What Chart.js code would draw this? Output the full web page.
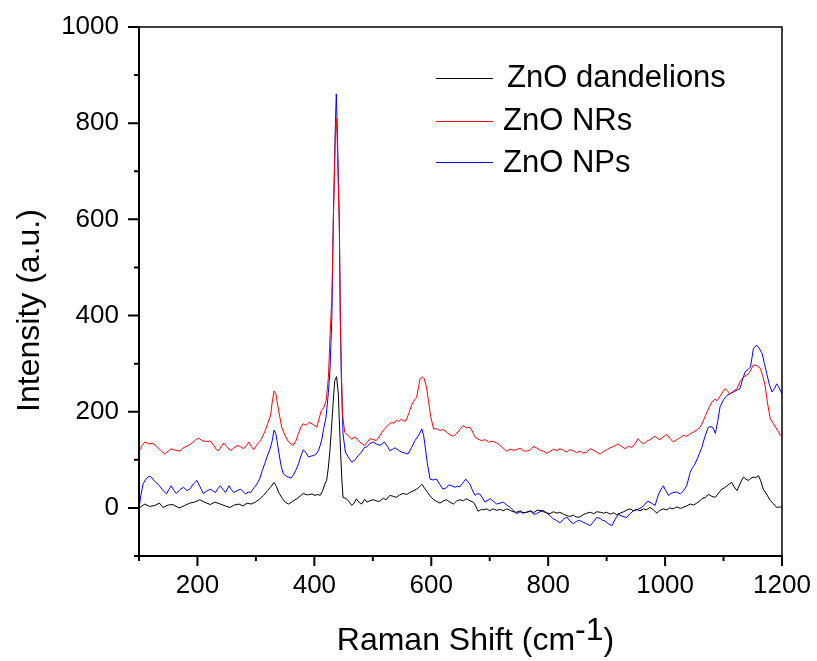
<!DOCTYPE html>
<html><head><meta charset="utf-8">
<script src="https://cdn.jsdelivr.net/npm/chart.js@4.4.1/dist/chart.umd.min.js"></script>
<style>html,body{margin:0;padding:0;background:#fff}#wrap{width:817px;height:661px}</style>
</head><body><div id="wrap"><canvas id="c" width="817" height="661"></canvas></div>
<script>
const seriesLabels = ['ZnO dandelions', 'ZnO NRs', 'ZnO NPs'];
const seriesColors = ['#000000', '#ff0000', '#0000ff'];

const dandelions = [[100,0],[110,8],[118,3],[127,5],[135,10],[141,1],[150,6],[158,7],[165,2],[170,0],[178,5],[187,10],[195,12],[204,17],[212,12],[222,7],[230,12],[239,8],[248,4],[256,1],[263,6],[271,8],[278,4],[285,10],[292,8],[299,12],[306,18],[313,26],[320,36],[325,43],[331,53],[335,45],[339,32],[345,20],[350,12],[356,8],[363,14],[370,19],[376,25],[381,30],[388,27],[396,29],[401,26],[406,28],[410,26],[414,35],[418,50],[421,57],[424,85],[427,125],[430,178],[433,235],[435,265],[438,273],[441,237],[443,170],[445,113],[447,60],[449,22],[455,19],[460,12],[464,5],[468,10],[472,19],[476,12],[481,8],[486,18],[490,12],[495,15],[501,17],[507,14],[512,14],[518,20],[523,17],[529,26],[535,24],[540,22],[546,27],[552,30],[558,28],[563,32],[569,35],[575,39],[580,44],[584,49],[588,42],[592,35],[598,25],[604,17],[610,13],[615,10],[620,14],[626,17],[632,12],[638,8],[643,14],[649,17],[655,15],[660,19],[666,15],[672,12],[676,4],[680,-7],[686,-3],[690,-4],[695,-2],[700,-6],[706,-2],[712,-5],[718,-3],[723,-6],[729,-2],[735,-5],[740,-8],[746,-9],[752,-6],[757,-10],[763,-9],[770,-6],[775,-10],[781,-5],[786,-5],[792,-8],[797,-10],[803,-12],[809,-8],[815,-11],[820,-9],[826,-13],[832,-16],[837,-18],[843,-15],[848,-19],[854,-19],[860,-14],[866,-11],[872,-9],[878,-12],[883,-8],[889,-9],[895,-11],[900,-9],[906,-13],[912,-10],[917,-14],[923,-11],[929,-8],[934,-5],[940,-2],[946,-6],[951,-3],[957,-6],[963,-2],[968,-4],[974,1],[980,-4],[986,-11],[991,-5],[997,-2],[1003,-4],[1008,0],[1014,-2],[1020,2],[1026,-1],[1031,1],[1037,4],[1043,8],[1049,6],[1054,10],[1060,15],[1063,19],[1069,22],[1074,28],[1080,24],[1086,22],[1091,30],[1097,39],[1102,42],[1106,46],[1110,50],[1114,53],[1118,44],[1123,36],[1128,50],[1134,64],[1138,60],[1143,57],[1147,62],[1151,64],[1155,63],[1160,67],[1164,55],[1168,39],[1174,28],[1180,15],[1186,8],[1191,1],[1196,2],[1200,1]];

const nanorods = [[100,118],[105,130],[110,137],[117,133],[124,134],[130,128],[137,120],[144,112],[150,118],[155,123],[162,120],[170,118],[175,124],[179,127],[185,130],[192,136],[197,142],[202,145],[208,140],[215,138],[222,139],[228,130],[232,122],[236,119],[241,128],[245,135],[250,128],[256,119],[262,124],[268,130],[274,127],[279,123],[284,130],[288,137],[292,128],[296,121],[302,132],[308,140],[312,150],[316,161],[320,175],[325,192],[328,220],[331,243],[334,238],[336,223],[340,195],[344,168],[350,150],[356,137],[360,133],[364,130],[368,138],[373,155],[377,168],[381,175],[386,172],[391,178],[396,175],[401,171],[404,168],[408,185],[412,203],[416,208],[420,223],[422,245],[424,272],[427,362],[430,440],[432.5,600],[436,780],[437.5,810],[439,770],[442.7,580],[444.5,380],[446,300],[448,196],[452,157],[458,150],[464,143],[470,148],[475,140],[480,135],[486,130],[490,136],[495,144],[501,142],[506,140],[512,150],[516,158],[520,164],[526,172],[532,178],[536,176],[540,182],[545,180],[549,185],[553,180],[557,182],[562,198],[566,213],[570,222],[575,230],[578,250],[581,269],[585,272],[588,269],[592,250],[595,224],[599,190],[604,164],[609,165],[615,161],[620,163],[626,158],[632,152],[638,149],[642,154],[646,158],[650,165],[655,171],[660,166],[666,168],[670,160],[675,147],[680,143],[686,140],[692,142],[698,137],[705,139],[712,135],[718,130],[723,124],[729,118],[735,122],[740,120],[746,121],[752,124],[757,119],[763,118],[770,121],[775,128],[780,125],[786,120],[792,118],[797,114],[803,117],[809,122],[815,119],[820,123],[826,120],[832,116],[837,121],[843,119],[848,115],[855,118],[860,114],[866,116],[872,123],[878,120],[883,116],[889,112],[895,118],[900,121],[906,125],[912,128],[920,133],[926,127],[932,123],[937,128],[943,126],[948,132],[954,144],[958,138],[963,133],[968,138],[974,142],[979,146],[983,149],[987,144],[991,142],[997,148],[1003,153],[1008,145],[1014,137],[1020,142],[1026,146],[1031,151],[1037,149],[1043,154],[1049,158],[1055,163],[1060,168],[1065,180],[1069,192],[1075,208],[1080,220],[1085,226],[1089,223],[1095,234],[1099,242],[1103,248],[1107,243],[1111,237],[1117,243],[1123,248],[1128,262],[1134,272],[1139,276],[1143,279],[1147,288],[1151,297],[1157,296],[1163,290],[1167,275],[1171,255],[1175,220],[1180,185],[1185,176],[1189,168],[1194,158],[1197,151],[1200,150]];

const nanoparticles = [[100,-2],[103,25],[107,50],[112,60],[117,66],[121,64],[127,55],[133,49],[140,38],[147,29],[151,38],[155,46],[160,36],[164,30],[170,38],[176,43],[182,36],[187,39],[193,50],[199,57],[204,45],[210,30],[216,35],[222,39],[226,36],[231,32],[235,40],[239,46],[244,38],[248,32],[254,46],[258,38],[262,32],[268,36],[274,39],[278,34],[282,29],[287,33],[291,32],[297,42],[302,50],[307,62],[311,78],[315,92],[319,106],[324,122],[328,140],[331,162],[334,155],[336,140],[340,110],[343,88],[347,71],[352,66],[356,64],[360,62],[364,68],[369,80],[373,92],[377,108],[381,121],[386,114],[390,106],[395,108],[399,109],[403,112],[407,119],[410,130],[413,144],[416,165],[420,189],[424,240],[427,293],[430,400],[432.4,600],[436,800],[437.5,861],[439,800],[442.7,600],[444.4,400],[446,279],[449,154],[453,116],[458,106],[464,95],[470,100],[475,109],[480,115],[486,126],[489,126],[495,134],[501,137],[506,133],[512,130],[516,133],[520,137],[525,128],[529,119],[534,122],[538,125],[544,120],[549,116],[555,114],[560,112],[566,125],[572,140],[578,150],[584,164],[587,150],[589,133],[593,95],[598,60],[603,58],[609,60],[614,50],[620,39],[626,42],[630,48],[635,46],[641,43],[645,45],[649,44],[654,52],[659,60],[662,55],[666,50],[670,38],[675,26],[679,30],[683,29],[688,20],[692,12],[697,16],[701,19],[706,14],[712,8],[718,10],[723,12],[729,6],[735,1],[740,-5],[746,-12],[752,-8],[757,-11],[763,-9],[770,-7],[775,-13],[780,-12],[786,-8],[791,-5],[797,-10],[803,-16],[808,-22],[814,-26],[820,-31],[826,-24],[832,-19],[837,-27],[843,-33],[848,-28],[854,-26],[860,-30],[866,-33],[872,-37],[878,-28],[883,-20],[889,-22],[893,-26],[897,-27],[903,-33],[909,-37],[914,-25],[920,-13],[926,-17],[934,-20],[940,-12],[946,-6],[952,-4],[960,1],[966,8],[970,14],[974,12],[979,8],[983,5],[986,18],[989,29],[993,38],[997,46],[1001,36],[1006,26],[1010,30],[1014,32],[1020,33],[1026,29],[1031,35],[1037,46],[1043,74],[1047,84],[1051,91],[1057,108],[1063,126],[1068,148],[1074,168],[1080,169],[1083,164],[1086,155],[1090,180],[1094,210],[1100,225],[1106,234],[1112,238],[1117,241],[1123,245],[1128,248],[1132,265],[1137,283],[1142,288],[1146,293],[1149,315],[1151,331],[1154,336],[1157,338],[1161,332],[1166,321],[1170,300],[1174,279],[1178,258],[1183,241],[1187,248],[1191,258],[1195,250],[1200,237]];

const xMajorTicks = [200, 400, 600, 800, 1000, 1200];
const xMinorTicks = [100, 300, 500, 700, 900, 1100];
const yMajorTicks = [0, 200, 400, 600, 800, 1000];
const yMinorTicks = [-100, 100, 300, 500, 700, 900];
const xRange = [100, 1200];
const yRange = [-100, 1000];
const xTitleMain = 'Raman Shift (cm';
const xTitleSup = '-1';
const xTitleEnd = ')';
const yTitle = 'Intensity (a.u.)';

const FONT = "'Liberation Sans', Arial, Helvetica, sans-serif";
const allSeries = [dandelions, nanorods, nanoparticles];

const framePlugin = {
  id: 'frame',
  afterDraw(chart) {
    const { ctx, chartArea: a, scales: { x, y } } = chart;
    ctx.save();
    ctx.strokeStyle = '#000';
    ctx.lineWidth = 1.5;
    ctx.beginPath();
    ctx.moveTo(a.left, a.top); ctx.lineTo(a.right, a.top); ctx.lineTo(a.right, a.bottom);
    ctx.stroke();
    ctx.lineWidth = 2;
    ctx.beginPath();
    ctx.moveTo(a.left, a.top - 1); ctx.lineTo(a.left, a.bottom); ctx.lineTo(a.right + 1, a.bottom);
    ctx.stroke();
    ctx.beginPath();
    xMajorTicks.forEach(v => { const p = x.getPixelForValue(v); ctx.moveTo(p, a.bottom); ctx.lineTo(p, a.bottom + 10); });
    xMinorTicks.forEach(v => { const p = x.getPixelForValue(v); ctx.moveTo(p, a.bottom); ctx.lineTo(p, a.bottom + 5); });
    yMajorTicks.forEach(v => { const p = y.getPixelForValue(v); ctx.moveTo(a.left, p); ctx.lineTo(a.left - 11, p); });
    yMinorTicks.forEach(v => { const p = y.getPixelForValue(v); ctx.moveTo(a.left, p); ctx.lineTo(a.left - 5, p); });
    ctx.stroke();

    ctx.fillStyle = '#000';
    ctx.font = '32px ' + FONT;
    ctx.textBaseline = 'alphabetic';
    ctx.textAlign = 'left';
    const w1 = ctx.measureText(xTitleMain).width;
    const w2 = ctx.measureText(xTitleSup).width;
    const w3 = ctx.measureText(xTitleEnd).width;
    const W = w1 + w2 + w3;
    const sx = (a.left + a.right) / 2 + 15 - W / 2;
    const by = a.bottom + 94;
    ctx.fillText(xTitleMain, sx, by);
    ctx.fillText(xTitleSup, sx + w1, by - 10);
    ctx.fillText(xTitleEnd, sx + w1 + w2, by);

    ctx.save();
    ctx.translate(38.5, (a.top + a.bottom) / 2 + 19);
    ctx.rotate(-Math.PI / 2);
    ctx.textAlign = 'center';
    ctx.fillText(yTitle, 0, 0);
    ctx.restore();

    const rowsLine = [51, 94, 135];
    const rowsText = [60, 103, 145];
    const textX = [368, 364, 364];
    ctx.font = '31px ' + FONT;
    ctx.textAlign = 'left';
    seriesLabels.forEach((lab, i) => {
      ctx.strokeStyle = seriesColors[i];
      ctx.lineWidth = 1;
      ctx.beginPath();
      ctx.moveTo(a.left + 297, a.top + rowsLine[i] + 0.5);
      ctx.lineTo(a.left + 354, a.top + rowsLine[i] + 0.5);
      ctx.stroke();
      ctx.fillStyle = '#000';
      ctx.fillText(lab, a.left + textX[i], a.top + rowsText[i]);
    });
    ctx.restore();
  }
};

new Chart(document.getElementById('c'), {
  type: 'line',
  data: {
    datasets: allSeries.map((s, i) => ({
      label: seriesLabels[i],
      data: s.map(p => ({ x: p[0], y: p[1] })),
      borderColor: seriesColors[i],
      backgroundColor: seriesColors[i],
      borderWidth: 1,
      pointRadius: 0,
      tension: 0,
      fill: false
    }))
  },
  options: {
    responsive: false,
    animation: false,
    layout: { padding: { top: 27, right: 35, left: 0, bottom: 0 } },
    plugins: { legend: { display: false }, tooltip: { enabled: false } },
    scales: {
      x: {
        type: 'linear', min: xRange[0], max: xRange[1],
        afterBuildTicks: s => { s.ticks = xMajorTicks.map(v => ({ value: v })); },
        afterFit: s => { s.height = 105; s.paddingLeft = 0; s.paddingRight = 0; },
        grid: { display: false, drawTicks: false },
        border: { display: false },
        ticks: { color: '#000', font: { family: FONT, size: 26 }, padding: 14, maxRotation: 0, autoSkip: false, callback: v => String(v) }
      },
      y: {
        type: 'linear', min: yRange[0], max: yRange[1],
        afterBuildTicks: s => { s.ticks = yMajorTicks.map(v => ({ value: v })); },
        afterFit: s => { s.width = 139; s.paddingTop = 0; s.paddingBottom = 0; },
        grid: { display: false, drawTicks: false },
        border: { display: false },
        ticks: { color: '#000', font: { family: FONT, size: 26 }, padding: 20, autoSkip: false, callback: v => String(v) }
      }
    }
  },
  plugins: [framePlugin]
});
</script></body></html>
